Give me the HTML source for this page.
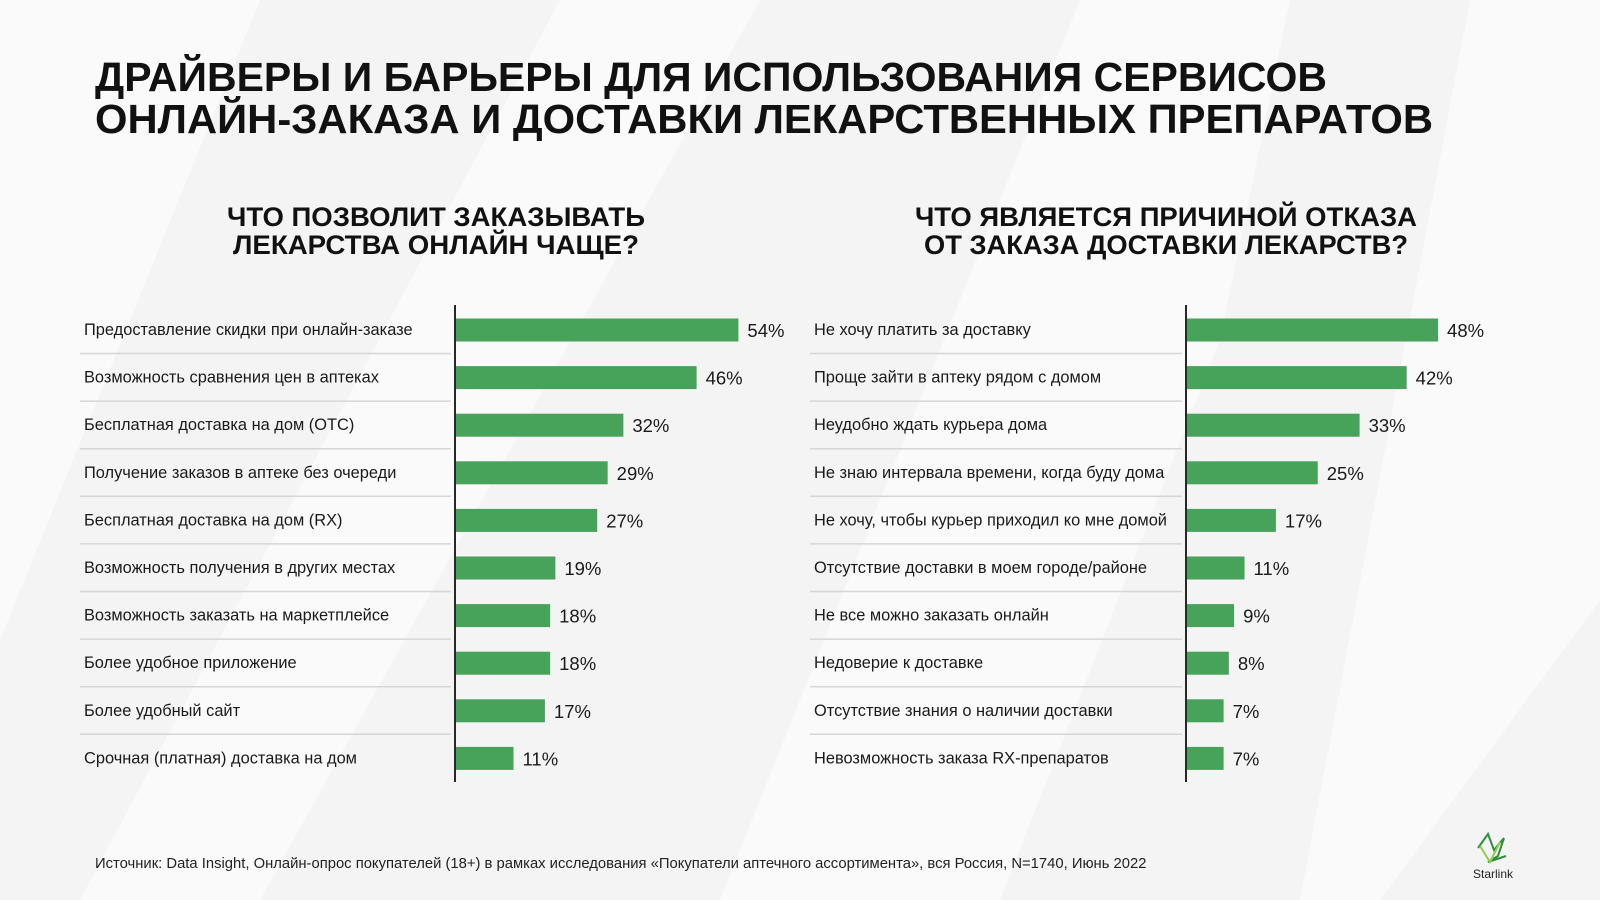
<!DOCTYPE html>
<html><head><meta charset="utf-8"><style>
html,body{margin:0;padding:0;background:#f4f4f4;}
svg{display:block;font-family:"Liberation Sans","DejaVu Sans",sans-serif;}
</style></head><body>
<svg id="s" width="1600" height="900" viewBox="0 0 1600 900">
<rect width="1600" height="900" fill="#f4f4f4"/>
<g fill="#fafafa">
<polygon points="0,0 260,0 0,640"/>
<polygon points="560,0 760,0 260,900 80,900"/>
<polygon points="1080,0 1290,0 1220,340 1000,900 720,900"/>
<polygon points="1470,0 1600,0 1600,600 1380,900 1300,900"/>
</g>
<g font-weight="bold" font-size="41" fill="#111">
<text x="95" y="91" textLength="1232" lengthAdjust="spacingAndGlyphs">ДРАЙВЕРЫ И БАРЬЕРЫ ДЛЯ ИСПОЛЬЗОВАНИЯ СЕРВИСОВ</text>
<text x="95" y="133" textLength="1338" lengthAdjust="spacingAndGlyphs">ОНЛАЙН-ЗАКАЗА И ДОСТАВКИ ЛЕКАРСТВЕННЫХ ПРЕПАРАТОВ</text>
</g>
<g font-weight="bold" font-size="27" fill="#111" text-anchor="middle">
<text x="436" y="226" textLength="418" lengthAdjust="spacingAndGlyphs">ЧТО ПОЗВОЛИТ ЗАКАЗЫВАТЬ</text>
<text x="436" y="254" textLength="406" lengthAdjust="spacingAndGlyphs">ЛЕКАРСТВА ОНЛАЙН ЧАЩЕ?</text>
</g>
<g font-weight="bold" font-size="27" fill="#111" text-anchor="middle">
<text x="1166" y="226" textLength="502" lengthAdjust="spacingAndGlyphs">ЧТО ЯВЛЯЕТСЯ ПРИЧИНОЙ ОТКАЗА</text>
<text x="1166" y="254" textLength="484" lengthAdjust="spacingAndGlyphs">ОТ ЗАКАЗА ДОСТАВКИ ЛЕКАРСТВ?</text>
</g>
<g id="charts"></g>
<text x="95" y="868" font-size="14.8" fill="#222">Источник:  Data Insight, Онлайн-опрос покупателей (18+) в рамках исследования «Покупатели аптечного ассортимента», вся Россия, N=1740, Июнь 2022</text>
<g>
<polyline points="1478,848 1488,834 1494,850 1504,838 1498,856 1488,862 1506,856" fill="none" stroke="#2f8f3f" stroke-width="2"/>
<polyline points="1480,846 1490,862 1500,842" fill="none" stroke="#8ccf4a" stroke-width="2"/>
<text x="1493" y="878" font-size="12" fill="#222" text-anchor="middle">Starlink</text>
</g>
</svg>
<script>
const leftCategories = ["Предоставление скидки при онлайн-заказе","Возможность сравнения цен в аптеках","Бесплатная доставка на дом (ОТС)","Получение заказов в аптеке без очереди","Бесплатная доставка на дом (RX)","Возможность получения в других местах","Возможность заказать на маркетплейсе","Более удобное приложение","Более удобный сайт","Срочная (платная) доставка на дом"];
const leftValues = [54,46,32,29,27,19,18,18,17,11];
const rightCategories = ["Не хочу платить за доставку","Проще зайти в аптеку рядом с домом","Неудобно ждать курьера дома","Не знаю интервала времени, когда буду дома","Не хочу, чтобы курьер приходил ко мне домой","Отсутствие доставки в моем городе/районе","Не все можно заказать онлайн","Недоверие к доставке","Отсутствие знания о наличии доставки","Невозможность заказа RX-препаратов"];
const rightValues = [48,42,33,25,17,11,9,8,7,7];

const NS = "http://www.w3.org/2000/svg";
const root = document.getElementById('charts');
function mk(tag, attrs, parent){const e=document.createElementNS(NS,tag);for(const k in attrs)e.setAttribute(k,attrs[k]);parent.appendChild(e);return e;}
function drawChart(cats, vals, labelX, axisX, prefix){
  const g = mk('g',{},root);
  
  
  const xScale = v => v*5.23;
  const yCenter = i => 330 + i*47.6;
  cats.forEach((c,i)=>{
    const y = yCenter(i);
    const t = mk('text',{x:labelX,y:y+5,'font-size':16.4,fill:'#1a1a1a'},g);
    t.textContent = c;
    
    
    if(i<cats.length-1){
      const l = mk('line',{x1:labelX-4,x2:axisX-4,y1:y+23.5,y2:y+23.5,stroke:'#d6d6d6','stroke-width':1.5},g);
      
      
    }
    const w = xScale(vals[i]);
    const b = mk('rect',{x:axisX+1,y:y-11.5,width:w,height:23,fill:'#47a35a'},g);
    
    
    const v = mk('text',{x:axisX+1+w+9,y:y+7,'font-size':18.5,fill:'#1a1a1a'},g);
    v.textContent = vals[i]+'%';
    
    
  });
  const ax = mk('line',{x1:axisX,x2:axisX,y1:305,y2:782,stroke:'#111','stroke-width':1.8},g);
  
  
}
drawChart(leftCategories,leftValues,84,455,'left');
drawChart(rightCategories,rightValues,814,1186,'right');
</script>
</body></html>
